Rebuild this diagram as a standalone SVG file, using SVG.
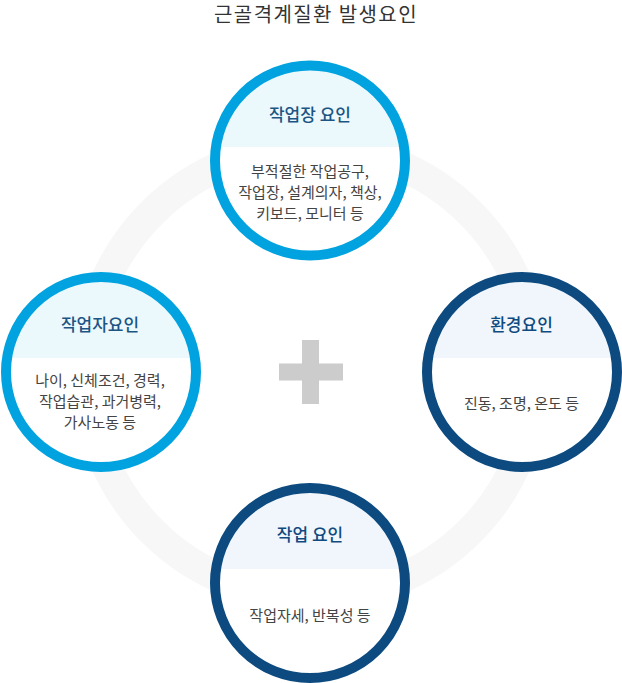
<svg xmlns="http://www.w3.org/2000/svg" width="622" height="683" viewBox="0 0 622 683">
<style>
text{font-family:"Noto Sans CJK KR","Noto Sans",sans-serif;text-anchor:middle}
.title{font-size:20px;fill:#333;letter-spacing:1.4px}
.head{font-size:17px;font-weight:500}
.hc{fill:#1b5584}
.hn{fill:#0f4a80}
.body{font-size:15px;fill:#444}
.rc{stroke:#00a3e0;stroke-width:10;fill:none}
.rn{stroke:#0c4a7f;stroke-width:10;fill:none}
.bg{fill:#fff}
.fc{fill:#ebf9fd}
.fn{fill:#f0f6fc}
</style>
<defs>
<clipPath id="cTop"><circle cx="310" cy="160.5" r="95"/></clipPath>
<clipPath id="cLeft"><circle cx="101" cy="372" r="95"/></clipPath>
<clipPath id="cRight"><circle cx="522" cy="372" r="95"/></clipPath>
<clipPath id="cBottom"><circle cx="310" cy="583" r="95"/></clipPath>
</defs>
<rect width="622" height="683" fill="#fff"/>
<text class="title" x="316" y="22">근골격계질환 발생요인</text>
<g id="connectors">
<circle cx="311" cy="372" r="225" fill="none" stroke="#f7f7f7" stroke-width="30"/>
</g>
<g id="plus">
<rect x="302" y="340" width="17" height="64" fill="#cccccc"/>
<rect x="279" y="363.5" width="64" height="17" fill="#cccccc"/>
</g>
<g id="node-top">
<circle class="bg" cx="310" cy="160.5" r="95"/>
<rect class="fc" x="200" y="60" width="220" height="87" clip-path="url(#cTop)"/>
<circle class="rc" cx="310" cy="160.5" r="95"/>
<text class="head hc" x="310" y="121">작업장 요인</text>
<text class="body" x="310" y="177">부적절한 작업공구,</text>
<text class="body" x="310" y="198">작업장, 설계의자, 책상,</text>
<text class="body" x="310" y="219">키보드, 모니터 등</text>
</g>
<g id="node-left">
<circle class="bg" cx="101" cy="372" r="95"/>
<rect class="fc" x="0" y="270" width="210" height="88" clip-path="url(#cLeft)"/>
<circle class="rc" cx="101" cy="372" r="95"/>
<text class="head hc" x="100" y="331">작업자요인</text>
<text class="body" x="100" y="386">나이, 신체조건, 경력,</text>
<text class="body" x="100" y="407">작업습관, 과거병력,</text>
<text class="body" x="100" y="428">가사노동 등</text>
</g>
<g id="node-right">
<circle class="bg" cx="522" cy="372" r="95"/>
<rect class="fn" x="420" y="270" width="210" height="88" clip-path="url(#cRight)"/>
<circle class="rn" cx="522" cy="372" r="95"/>
<text class="head hn" x="521.5" y="331">환경요인</text>
<text class="body" x="521.5" y="409">진동, 조명, 온도 등</text>
</g>
<g id="node-bottom">
<circle class="bg" cx="310" cy="583" r="95"/>
<rect class="fn" x="200" y="480" width="220" height="89" clip-path="url(#cBottom)"/>
<circle class="rn" cx="310" cy="583" r="95"/>
<text class="head hn" x="310" y="541">작업 요인</text>
<text class="body" x="310" y="621">작업자세, 반복성 등</text>
</g>
</svg>
